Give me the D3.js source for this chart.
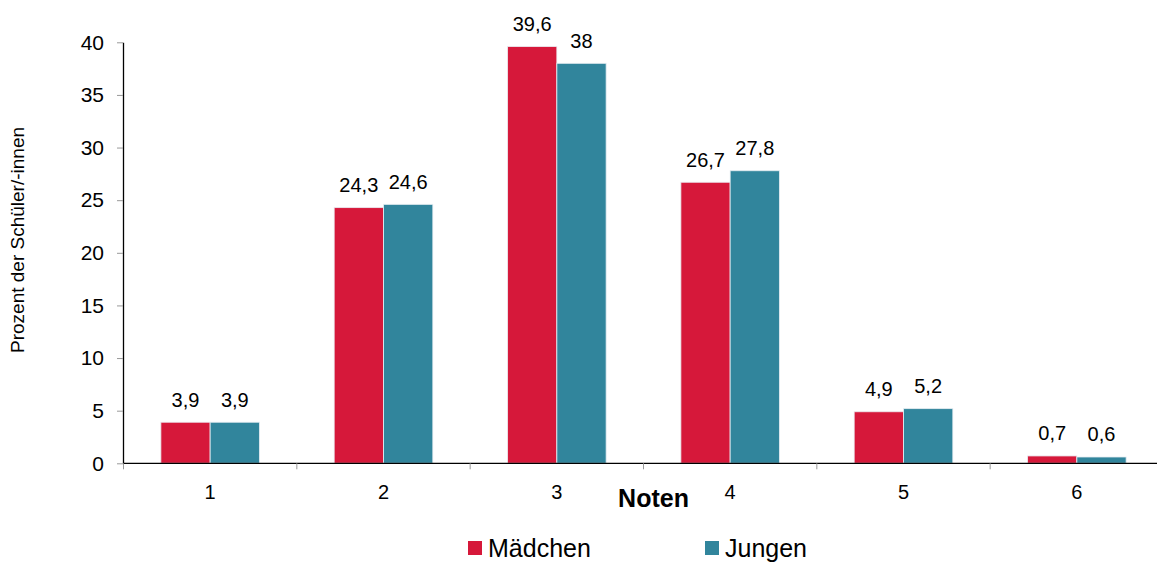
<!DOCTYPE html>
<html>
<head>
<meta charset="utf-8">
<script src="https://cdn.jsdelivr.net/npm/d3@7"></script>
<style>
	body { margin: 0; background: #fff; }
	svg { display: block; font-family: Arial, "Liberation Sans", sans-serif; }
</style>
</head>
<body>
<svg id="chart" width="1157" height="563"></svg>
<script>
var categories = ["1", "2", "3", "4", "5", "6"];
var seriesNames = ["Mädchen", "Jungen"];
var maedchen = [3.9, 24.3, 39.6, 26.7, 4.9, 0.7];
var jungen = [3.9, 24.6, 38, 27.8, 5.2, 0.6];
var yTicks = [0, 5, 10, 15, 20, 25, 30, 35, 40];

var colors = ["#d6183a", "#31859c"];
var svg = d3.select("#chart");

var x = d3.scaleBand()
	.domain(categories)
	.range([123.5, 1163.5])
	.padding(0);

var y = d3.scaleLinear()
	.domain([0, 40])
	.range([463.3, 42.3]);

var barWidth = x.bandwidth() * 0.2845;
var de = d3.formatLocale({ decimal: ",", thousands: ".", grouping: [3], currency: ["", "€"] });
var fmt = function(v) { return de.format("~f")(v); };

// y axis
var yAxis = svg.append("g")
	.attr("transform", "translate(123,0)")
	.call(d3.axisLeft(y).tickValues(yTicks).tickSize(6).tickPadding(13).tickSizeOuter(0));
yAxis.select(".domain").attr("stroke", "#000").attr("stroke-width", 1.3);
yAxis.selectAll(".tick line").attr("stroke", "#999");
yAxis.selectAll(".tick text")
	.attr("fill", "#000")
	.style("font-size", "21px")
	.style("font-family", "Arial, 'Liberation Sans', sans-serif");

// bars
var series = [maedchen, jungen];
series.forEach(function(values, si) {
	var g = svg.append("g").attr("class", "series-" + si);

	g.selectAll("rect")
		.data(values)
		.enter()
		.append("rect")
		.attr("x", function(d, i) {
			return x(categories[i]) + x.bandwidth() / 2 - barWidth + si * barWidth;
		})
		.attr("y", function(d) { return y(d); })
		.attr("width", barWidth)
		.attr("height", function(d) { return y(0) - y(d); })
		.attr("fill", colors[si])
		.attr("stroke", "rgba(235,240,245,0.8)")
		.attr("stroke-width", 1);

	g.selectAll("text")
		.data(values)
		.enter()
		.append("text")
		.attr("x", function(d, i) {
			return x(categories[i]) + x.bandwidth() / 2 - barWidth / 2 + si * barWidth;
		})
		.attr("y", function(d) { return y(d) - 15.5; })
		.attr("text-anchor", "middle")
		.style("font-size", "20px")
		.text(function(d) { return fmt(d); });
});

// x axis
var xAxis = svg.append("g").attr("class", "x-axis");
xAxis.append("line")
	.attr("x1", 123)
	.attr("x2", 1157)
	.attr("y1", y(0))
	.attr("y2", y(0))
	.attr("stroke", "#000")
	.attr("stroke-width", 1.3);

xAxis.selectAll("line.tick")
	.data(categories)
	.enter()
	.append("line")
	.attr("class", "tick")
	.attr("x1", function(d) { return x(d); })
	.attr("x2", function(d) { return x(d); })
	.attr("y1", y(0))
	.attr("y2", y(0) + 6)
	.attr("stroke", "#999");

xAxis.selectAll("text")
	.data(categories)
	.enter()
	.append("text")
	.attr("x", function(d) { return x(d) + x.bandwidth() / 2; })
	.attr("y", 499)
	.attr("text-anchor", "middle")
	.style("font-size", "20px")
	.text(function(d) { return d; });

// axis titles
svg.append("text")
	.attr("x", 653.5)
	.attr("y", 506.5)
	.attr("text-anchor", "middle")
	.style("font-size", "25px")
	.style("font-weight", "bold")
	.text("Noten");

svg.append("text")
	.attr("transform", "translate(24,240) rotate(-90)")
	.attr("text-anchor", "middle")
	.style("font-size", "19px")
	.text("Prozent der Schüler/-innen");

// legend
var legendX = [468, 705];
var legend = svg.append("g").attr("class", "legend");
seriesNames.forEach(function(name, i) {
	legend.append("rect")
		.attr("x", legendX[i])
		.attr("y", 541)
		.attr("width", 14)
		.attr("height", 14)
		.attr("fill", colors[i]);
	legend.append("text")
		.attr("x", legendX[i] + 20)
		.attr("y", 557)
		.style("font-size", "25px")
		.text(name);
});
</script>
</body>
</html>
